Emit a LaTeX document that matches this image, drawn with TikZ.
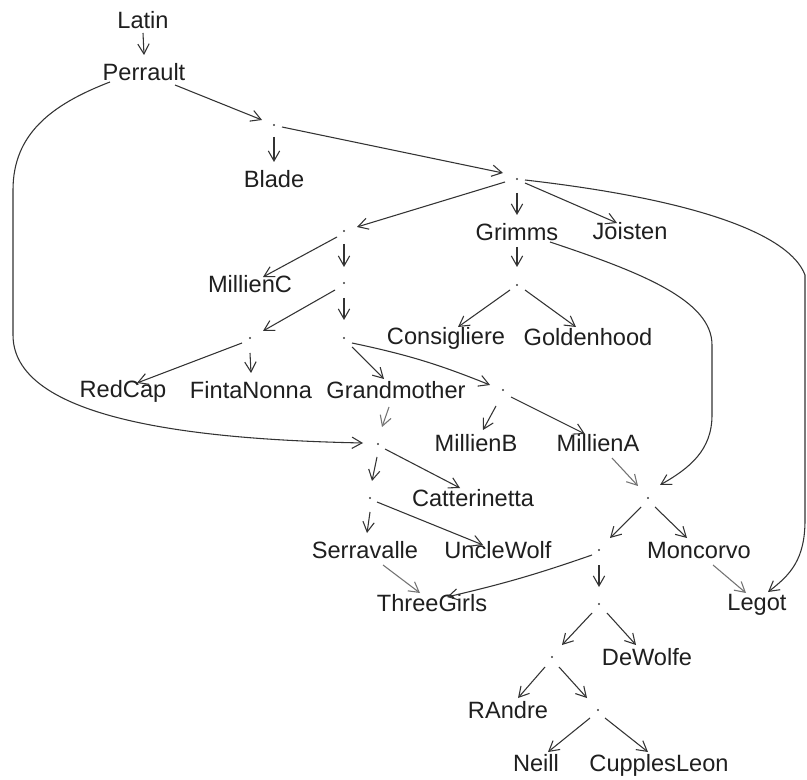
\documentclass[tikz,border=0pt]{standalone}
\usepackage{fontspec}
\setmainfont{Liberation Sans}
\usetikzlibrary{arrows.meta,calc}
\tikzset{
  lab/.style={font=\fontsize{17.7pt}{20pt}\selectfont, inner sep=0pt, text height=12.7pt, text depth=0pt, text=black!88},
  pt/.style={circle, fill=black!75, inner sep=0pt, minimum size=1.7pt},
  arr/.style={draw=black!80, line width=0.8pt, -{Straight Barb[length=7.5pt,width=8.5pt,line width=0.8pt]}},
  arrl/.style={arr, draw=black!55},
}
\begin{document}
\begin{tikzpicture}[x=0.75pt,y=-0.75pt]
\fill[white] (0,0) rectangle (807,780);
\useasboundingbox (0,0) rectangle (807,780);
% nodes
\node[lab] (Latin) at (143,20) {Latin};
\node[lab] (Perrault) at (144,72) {Perrault};
\node[pt] (d1) at (274,125) {};
\node[lab] (Blade) at (274,179) {Blade};
\node[pt] (d2) at (517,179) {};
\node[pt] (d3) at (344,231) {};
\node[lab] (Grimms) at (517,232) {Grimms};
\node[lab] (Joisten) at (630,231) {Joisten};
\node[lab] (MillienC) at (250,284) {MillienC};
\node[pt] (d4) at (344,283) {};
\node[pt] (dG) at (517,285) {};
\node[pt] (d5) at (250,338) {};
\node[pt] (d6) at (344,338) {};
\node[lab] (Consigliere) at (446,336) {Consigliere};
\node[lab] (Goldenhood) at (588,337) {Goldenhood};
\node[lab] (RedCap) at (123,389) {RedCap};
\node[lab] (FintaNonna) at (251,390) {FintaNonna};
\node[lab] (Grandmother) at (396,390) {Grandmother};
\node[pt] (d7) at (503,390) {};
\node[pt] (d8) at (378,444) {};
\node[lab] (MillienB) at (476,443) {MillienB};
\node[lab] (MillienA) at (598,443) {MillienA};
\node[pt] (d10) at (370,498) {};
\node[lab] (Catterinetta) at (473,498) {Catterinetta};
\node[pt] (d11) at (648,498) {};
\node[lab] (Serravalle) at (365,550) {Serravalle};
\node[lab] (UncleWolf) at (498,550) {UncleWolf};
\node[pt] (d12) at (599,550) {};
\node[lab] (Moncorvo) at (699,550) {Moncorvo};
\node[lab] (ThreeGirls) at (432,603) {ThreeGirls};
\node[lab] (Legot) at (757,602) {Legot};
\node[pt] (d13) at (599,604) {};
\node[pt] (d14) at (552,657) {};
\node[lab] (DeWolfe) at (647,657) {DeWolfe};
\node[lab] (RAndre) at (508,710) {RAndre};
\node[pt] (d15) at (598,710) {};
\node[lab] (Neill) at (536,763) {Neill};
\node[lab] (CupplesLeon) at (659,763) {CupplesLeon};
% edges
\draw[arr] ($(Latin)+(0,13)$) -- ($(Perrault)+(0,-17)$);
\draw[arr] ($(Perrault)+(31,13)$) -- ($(d1)+(-12,-5)$);
\draw[arr] ($(d1)+(0,12)$) -- ($(Blade)+(0,-17)$);
\draw[arr] ($(d1)+(8,2)$) -- ($(d2)+(-14,-6)$);
\draw[arr] ($(Perrault)+(-34,10)$) .. controls (50,105) and (13,135) .. (13,190)
  -- (13,335) .. controls (13,425) and (220,440) .. ($(d8)+(-15,-1)$);
\draw[arr] ($(d2)+(-12,3)$) -- ($(d3)+(13,-4)$);
\draw[arr] ($(d2)+(0,14)$) -- ($(Grimms)+(0,-17)$);
\draw[arr] ($(d2)+(8,4)$) -- ($(Joisten)+(-13,-8)$);
\draw[arr] ($(d2)+(8,1)$) .. controls (700,200) and (790,235) .. (805,275)
  -- (805,520) .. controls (805,560) and (790,575) .. ($(Legot)+(11,-10)$);
\draw[arr] ($(Grimms)+(0,15)$) -- ($(dG)+(0,-18)$);
\draw[arr] ($(Grimms)+(33,10)$) .. controls (640,272) and (712,300) .. (712,345)
  -- (712,415) .. controls (712,450) and (690,468) .. ($(d11)+(12,-13)$);
\draw[arr] ($(d3)+(-7,6)$) -- ($(MillienC)+(13,-7)$);
\draw[arr] ($(d3)+(0,13)$) -- ($(d4)+(0,-16)$);
\draw[arr] ($(d4)+(-9,7)$) -- ($(d5)+(13,-7)$);
\draw[arr] ($(d4)+(0,15)$) -- ($(d6)+(0,-18)$);
\draw[arr] ($(dG)+(-7,5)$) -- ($(Consigliere)+(12,-9)$);
\draw[arr] ($(dG)+(8,5)$) -- ($(Goldenhood)+(-12,-10)$);
\draw[arr] ($(d5)+(-8,5)$) -- ($(RedCap)+(14,-6)$);
\draw[arr] ($(d5)+(0,15)$) -- ($(FintaNonna)+(0,-17)$);
\draw[arr] ($(d6)+(8,9)$) -- ($(Grandmother)+(-12,-11)$);
\draw[arr] ($(d6)+(8,5)$) to[bend left=5] ($(d7)+(-13,-5)$);
\draw[arrl] ($(Grandmother)+(-7,17)$) -- ($(d8)+(4,-17)$);
\draw[arr] ($(d7)+(-7,16)$) -- ($(MillienB)+(7,-13)$);
\draw[arr] ($(d7)+(8,7)$) -- ($(MillienA)+(-13,-9)$);
\draw[arr] ($(d8)+(-1,13)$) -- ($(d10)+(2,-17)$);
\draw[arr] ($(d8)+(7,5)$) -- ($(Catterinetta)+(-13,-10)$);
\draw[arrl] ($(MillienA)+(14,15)$) -- ($(d11)+(-10,-12)$);
\draw[arr] ($(d10)+(0,14)$) -- ($(Serravalle)+(2,-17)$);
\draw[arr] ($(d10)+(7,4)$) -- ($(UncleWolf)+(-15,-5)$);
\draw[arr] ($(d11)+(-7,9)$) -- ($(d12)+(11,-12)$);
\draw[arr] ($(d11)+(7,9)$) -- ($(Moncorvo)+(-12,-12)$);
\draw[arrl] ($(Serravalle)+(18,15)$) -- ($(ThreeGirls)+(-12,-10)$);
\draw[arr] ($(d12)+(-7,5)$) to[bend left=3] ($(ThreeGirls)+(15,-6)$);
\draw[arr] ($(d12)+(0,15)$) -- ($(d13)+(0,-17)$);
\draw[arrl] ($(Moncorvo)+(14,15)$) -- ($(Legot)+(-11,-9)$);
\draw[arr] ($(d13)+(-7,9)$) -- ($(d14)+(10,-12)$);
\draw[arr] ($(d13)+(8,9)$) -- ($(DeWolfe)+(-11,-12)$);
\draw[arr] ($(d14)+(-7,10)$) -- ($(RAndre)+(10,-12)$);
\draw[arr] ($(d14)+(7,10)$) -- ($(d15)+(-11,-12)$);
\draw[arr] ($(d15)+(-8,8)$) -- ($(Neill)+(12,-11)$);
\draw[arr] ($(d15)+(7,8)$) -- ($(CupplesLeon)+(-11,-11)$);
\end{tikzpicture}
\end{document}
